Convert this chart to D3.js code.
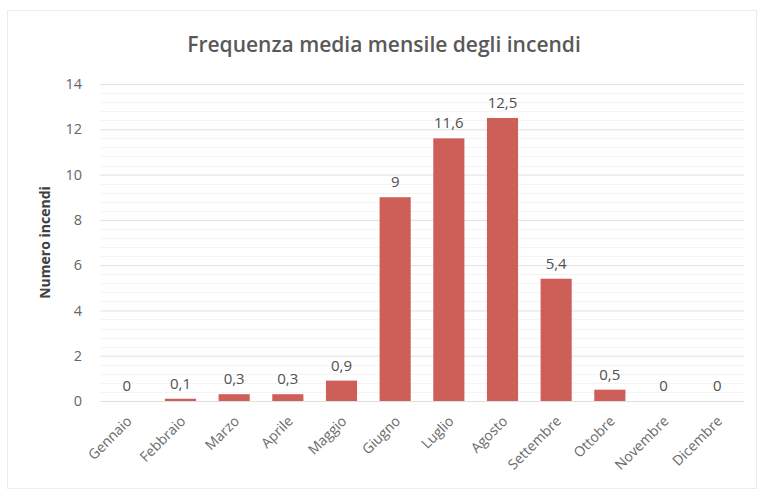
<!DOCTYPE html>
<html><head><meta charset="utf-8">
<script src="https://cdn.jsdelivr.net/npm/d3@7"></script>
<style>body{margin:0;background:#fff}svg{display:block}</style>
</head><body>
<script>
const months = ["Gennaio","Febbraio","Marzo","Aprile","Maggio","Giugno","Luglio","Agosto","Settembre","Ottobre","Novembre","Dicembre"];
const values = [0,0.1,0.3,0.3,0.9,9,11.6,12.5,5.4,0.5,0,0];
const yTicks = [0,2,4,6,8,10,12,14];
const title = "Frequenza media mensile degli incendi";
const yTitle = "Numero incendi";

const W=762,H=492;
const m={left:100,right:18,top:84,bottom:91};
const svg=d3.select("body").append("svg").attr("width",W).attr("height",H);
const font="'Open Sans', 'Noto Sans', sans-serif";

svg.append("rect").attr("x",7.5).attr("y",10.5).attr("width",749).attr("height",478)
  .attr("fill","#fff").attr("stroke","#ececec");

const x=d3.scaleBand().domain(months).range([m.left,W-m.right]).paddingInner(0.42).paddingOuter(0.21);
const y=d3.scaleLinear().domain([0,14]).range([H-m.bottom,m.top]);

// minor gridlines
const minor=d3.range(0,14.001,0.4).filter(v=>Math.abs(v/2-Math.round(v/2))>1e-6);
svg.append("g").selectAll("line").data(minor).join("line")
  .attr("x1",m.left).attr("x2",W-m.right)
  .attr("y1",d=>Math.round(y(d))+0.5).attr("y2",d=>Math.round(y(d))+0.5)
  .attr("stroke","#f4f4f4");

const yAxis=d3.axisLeft(y).tickValues(yTicks).tickSize(-(W-m.left-m.right)).tickPadding(18).tickFormat(d3.format("d"));
const gy=svg.append("g").attr("transform",`translate(${m.left},0)`).call(yAxis);
gy.select(".domain").remove();
gy.selectAll(".tick line").attr("stroke","#e0e0e0");
gy.selectAll(".tick text").attr("fill","#666").attr("font-size",14.5).attr("font-family",font);

const fmt=v=>String(v).replace(".",",");
svg.append("g").selectAll("rect").data(values).join("rect")
  .attr("x",(d,i)=>x(months[i])).attr("width",x.bandwidth())
  .attr("y",d=>y(d)).attr("height",d=>y(0)-y(d))
  .attr("fill","#CE5E58");

svg.append("g").selectAll("text").data(values).join("text")
  .attr("x",(d,i)=>x(months[i])+x.bandwidth()/2).attr("y",d=>y(d)-10)
  .attr("text-anchor","middle").attr("font-size",15).attr("font-family",font).attr("fill","#505050")
  .text(d=>fmt(d));

const xAxis=d3.axisBottom(x).tickSize(0).tickPadding(0);
const gx=svg.append("g").attr("transform",`translate(0,${y(0)})`).call(xAxis);
gx.select(".domain").attr("stroke","#e0e0e0");
gx.selectAll(".tick text").attr("fill","#6a6a6a").attr("font-size",14).attr("font-family",font)
  .attr("text-anchor","end").attr("dy",0).attr("transform","translate(6,21) rotate(-45)");

svg.append("text").attr("x",384).attr("y",52).attr("text-anchor","middle")
  .attr("font-size",21).attr("font-weight",600).attr("font-family",font).attr("fill","#595959").text(title);

svg.append("text").attr("transform",`translate(50,${(y(0)+y(14))/2}) rotate(-90)`)
  .attr("text-anchor","middle").attr("font-size",14).attr("font-weight","bold")
  .attr("font-family",font).attr("fill","#404040").text(yTitle);
</script>
</body></html>
